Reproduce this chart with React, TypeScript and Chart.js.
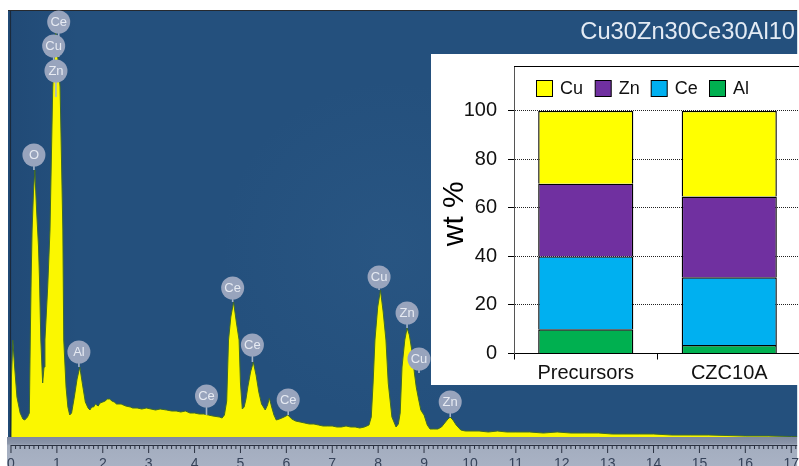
import React, { useEffect, useRef } from "react";
import { Chart, registerables } from "chart.js";

Chart.register(...registerables);

const FONT = "'Liberation Sans', Arial, sans-serif";

// EDS spectrum
const spectrumKeV = [
  0.0, 0.01, 0.04, 0.08, 0.13, 0.2, 0.26, 0.3, 0.36, 0.4, 0.42, 0.44, 0.46, 0.49, 0.52, 0.56, 0.6, 0.62, 0.65, 0.69,
  0.72, 0.74, 0.8, 0.85, 0.91, 0.975, 1.07, 1.13, 1.15, 1.2, 1.24, 1.28, 1.32, 1.38, 1.44, 1.5, 1.56, 1.62, 1.68,
  1.72, 1.76, 1.8, 1.84, 1.9, 1.94, 2.0, 2.05, 2.1, 2.15, 2.2, 2.25, 2.3, 2.4, 2.5, 2.6, 2.65, 2.75, 2.85, 2.95,
  3.05, 3.15, 3.25, 3.39, 3.5, 3.6, 3.7, 3.8, 3.9, 4.0, 4.1, 4.2, 4.3, 4.4, 4.54, 4.6, 4.65, 4.7, 4.74, 4.79, 4.85,
  4.91, 4.97, 5.0, 5.04, 5.08, 5.12, 5.16, 5.22, 5.28, 5.34, 5.4, 5.46, 5.54, 5.59, 5.63, 5.68, 5.73, 5.78, 5.85,
  5.95, 6.03, 6.12, 6.2, 6.3, 6.4, 6.5, 6.6, 6.7, 6.8, 6.9, 7.0, 7.1, 7.2, 7.3, 7.4, 7.5, 7.6, 7.7, 7.8, 7.85, 7.89,
  7.93, 7.99, 8.05, 8.11, 8.17, 8.22, 8.3, 8.39, 8.44, 8.48, 8.52, 8.58, 8.63, 8.68, 8.74, 8.79, 8.83, 8.88, 8.93,
  8.97, 9.0, 9.07, 9.13, 9.2, 9.3, 9.38, 9.45, 9.52, 9.57, 9.63, 9.7, 9.8, 9.9, 10.0, 10.2, 10.4, 10.6, 10.8, 11.0,
  11.3, 11.6, 11.9, 12.2, 12.5, 12.8, 13.1, 13.4, 13.7, 14.0, 14.4, 14.8, 15.2, 15.6, 16.0, 16.5, 17.0, 17.13,
];
const spectrumCounts = [
  0, 60, 97, 70, 40, 24, 18, 17, 20, 24, 97, 160, 207, 245, 267, 225, 190, 160, 97, 54,
  70, 97, 150, 207, 350, 407, 350, 207, 97, 50, 30, 22, 24, 40, 58, 70, 52, 35, 29,
  27, 30, 30, 33, 31, 34, 35, 36, 38, 38, 36, 35, 33, 33, 31, 30, 29, 29, 28, 29,
  28, 27, 28, 27, 26, 26, 25, 26, 24, 24, 23, 23, 22, 21, 20, 19, 22, 36, 97, 120, 135,
  115, 97, 54, 28, 30, 38, 50, 65, 75, 62, 45, 33, 27, 32, 39, 30, 22, 17, 18,
  20, 22, 18, 16, 15, 14, 13, 13, 12, 11, 11, 11, 10, 10, 11, 10, 10, 9, 10, 12, 20, 54,
  97, 130, 147, 125, 97, 54, 20, 10, 13, 24, 70, 97, 109, 102, 85, 64, 50, 38, 27,
  24, 22, 12, 8, 8, 8, 10, 14, 18, 20, 17, 12, 7, 6, 6, 6, 5, 6, 5, 5,
  5, 4, 5, 4, 4, 4, 3, 3, 3, 3, 2, 2, 2, 1.5, 1, 1, 0.5, 0.5,
];
const spectrumRange = { min: -0.065, max: 17.13 };

// peak badges
const peakNames = ["Ce", "Cu", "Zn", "O", "Al", "Ce", "Ce", "Ce", "Ce", "Cu", "Zn", "Cu", "Zn"];
const peakKeV = [1.04, 0.93, 0.98, 0.5, 1.48, 4.26, 4.83, 5.26, 6.04, 8.02, 8.63, 8.89, 9.57];
const peakBadgeY = [415, 391, 366, 282, 85, 41, 149, 92, 37, 160, 124, 78, 35];
const peakStemTo = [380, 355, 340, 267, 70, 22, 135, 75, 22, 147, 109, 64, 20];
const spectrumTitle = "Cu30Zn30Ce30Al10";

// inset composition bars
const insetCategories = ["Precursors", "CZC10A"];
const alValues = [10, 3.5];
const ceValues = [30, 27.9];
const znValues = [30, 33.3];
const cuValues = [30, 35.3];
const insetAxisTitle = "wt %";

const spectrumPlugin = {
  id: "spectrumDecor",
  beforeDraw(chart: any) {
    const { ctx, chartArea: a, width, height } = chart;
    ctx.save();
    ctx.fillStyle = "#ffffff";
    ctx.fillRect(0, 0, width, height);
    ctx.fillStyle = "#24507d";
    ctx.fillRect(a.left, a.top, a.right - a.left, a.bottom - a.top);
    let g = ctx.createRadialGradient(390, 250, 10, 390, 250, 170);
    g.addColorStop(0, "rgba(70,120,165,0.12)");
    g.addColorStop(1, "rgba(70,120,165,0)");
    ctx.fillStyle = g;
    ctx.fillRect(a.left, a.top, a.right - a.left, a.bottom - a.top);
    g = ctx.createLinearGradient(a.left, 0, a.left + 70, 0);
    g.addColorStop(0, "rgba(20,50,90,0.2)");
    g.addColorStop(1, "rgba(20,50,90,0)");
    ctx.fillStyle = g;
    ctx.fillRect(a.left, a.top, 70, a.bottom - a.top);
    ctx.fillStyle = "#26292e";
    ctx.fillRect(a.left, a.top - 1, a.right - a.left, 1);
    // scale band under the plot
    g = ctx.createLinearGradient(0, a.bottom, 0, height);
    g.addColorStop(0, "#7f8a9f");
    g.addColorStop(0.22, "#8b95a9");
    g.addColorStop(0.3, "#a3adbf");
    g.addColorStop(1, "#a9b2c4");
    ctx.fillStyle = g;
    ctx.fillRect(a.left - 1, a.bottom, a.right - a.left + 1, height - a.bottom);
    ctx.restore();
  },
  afterDatasetsDraw(chart: any) {
    const { ctx, chartArea: a, scales } = chart;
    const x = scales.x;
    const y = scales.y;
    ctx.save();
    // zero line at the left of the spectrum
    ctx.strokeStyle = "#1a2a3c";
    ctx.lineWidth = 1.2;
    ctx.beginPath();
    ctx.moveTo(x.getPixelForValue(0) - 0.5, a.top);
    ctx.lineTo(x.getPixelForValue(0) - 0.5, a.bottom);
    ctx.stroke();
    // ruler
    ctx.strokeStyle = "#2a3140";
    ctx.lineWidth = 1;
    ctx.beginPath();
    ctx.moveTo(x.getPixelForValue(0), 445.5);
    ctx.lineTo(a.right, 445.5);
    for (let i = 0; i <= 171; i++) {
      const px = x.getPixelForValue(i / 10);
      ctx.moveTo(px, 445);
      ctx.lineTo(px, i % 10 === 0 ? 453 : 449);
    }
    ctx.stroke();
    // badges' stems and text
    const meta = chart.getDatasetMeta(0);
    ctx.strokeStyle = "#a5b5c8";
    ctx.lineWidth = 1.6;
    peakNames.forEach((_, i) => {
      const px = x.getPixelForValue(peakKeV[i]);
      ctx.beginPath();
      ctx.moveTo(px, y.getPixelForValue(peakBadgeY[i]));
      ctx.lineTo(px, y.getPixelForValue(peakStemTo[i]));
      ctx.stroke();
    });
    meta.data.forEach((pt: any, i: number) => {
      ctx.beginPath();
      ctx.fillStyle = "#98a4bd";
      ctx.arc(pt.x, pt.y, 11.5, 0, Math.PI * 2);
      ctx.fill();
      ctx.fillStyle = "#e6eaf2";
      ctx.font = `13px ${FONT}`;
      ctx.textAlign = "center";
      ctx.textBaseline = "middle";
      ctx.fillText(peakNames[i], pt.x, pt.y + 0.5);
    });
    ctx.fillStyle = "#e4ebf4";
    ctx.font = `23.7px ${FONT}`;
    ctx.textAlign = "right";
    ctx.textBaseline = "middle";
    ctx.fillText(spectrumTitle, 795, 32);
    ctx.restore();
  },
};

const insetPlugin = {
  id: "insetDecor",
  afterLayout(chart: any) {
    // the axis title sits a little below the middle of the plot
    chart.scales.y.top += 8;
  },
  afterDatasetsDraw(chart: any) {
    const { ctx, chartArea: a, data } = chart;
    ctx.save();
    ctx.lineWidth = 1;
    ctx.strokeStyle = "#555";
    ctx.beginPath();
    ctx.moveTo(a.left + 0.5, a.top);
    ctx.lineTo(a.left + 0.5, a.top + 10);
    ctx.stroke();
    ctx.strokeStyle = "#000";
    ctx.beginPath();
    ctx.moveTo(a.left, a.top + 0.5);
    ctx.lineTo(a.right, a.top + 0.5);
    ctx.stroke();
    // legend, Cu first
    const items = [...data.datasets].reverse();
    const swatchLeft = [105, 163.7, 219.7, 278];
    ctx.font = `18px ${FONT}`;
    ctx.textBaseline = "middle";
    ctx.textAlign = "left";
    items.forEach((d: any, i: number) => {
      ctx.fillStyle = d.backgroundColor;
      ctx.fillRect(swatchLeft[i] + 0.5, 26.5, 16, 16);
      ctx.strokeStyle = "#000";
      ctx.strokeRect(swatchLeft[i] + 0.5, 26.5, 16, 16);
      ctx.fillStyle = "#111";
      ctx.fillText(d.label, swatchLeft[i] + 24, 35);
    });
    ctx.restore();
  },
};

export default function App() {
  const mainRef = useRef<HTMLCanvasElement>(null);
  const insetRef = useRef<HTMLCanvasElement>(null);

  useEffect(() => {
    document.body.style.margin = "0";
    const main = new Chart(mainRef.current as HTMLCanvasElement, {
      type: "line",
      data: {
        datasets: [
          {
            type: "scatter",
            label: "Peaks",
            data: peakKeV.map((x, i) => ({ x, y: peakBadgeY[i] })),
            pointRadius: 0,
            clip: false,
          } as any,
          {
            label: "Spectrum",
            data: spectrumKeV.map((x, i) => ({ x, y: spectrumCounts[i] })),
            borderColor: "#3f6a2c",
            borderWidth: 1,
            backgroundColor: "#fbf700",
            fill: "origin",
            pointRadius: 0,
            tension: 0,
          },
        ],
      },
      options: {
        responsive: false,
        animation: false,
        devicePixelRatio: 1,
        layout: { padding: { left: 8, top: 11, right: 0, bottom: 0 } },
        plugins: { legend: { display: false }, tooltip: { enabled: false } },
        scales: {
          x: {
            type: "linear",
            min: spectrumRange.min,
            max: spectrumRange.max,
            grid: { display: false, drawTicks: true, tickLength: 19 },
            border: { display: false },
            afterFit: (s: any) => {
              s.height = 29;
            },
            ticks: {
              stepSize: 1,
              includeBounds: false,
              autoSkip: false,
              maxRotation: 0,
              padding: 0,
              color: "#36435a",
              font: { family: FONT, size: 14 },
            },
          },
          y: { display: false, min: 0, max: 426 },
        },
      },
      plugins: [spectrumPlugin],
    } as any);

    const inset = new Chart(insetRef.current as HTMLCanvasElement, {
      type: "bar",
      data: {
        labels: insetCategories,
        datasets: [
          { label: "Al", data: alValues, backgroundColor: "#00b050" },
          { label: "Ce", data: ceValues, backgroundColor: "#00b0f0" },
          { label: "Zn", data: znValues, backgroundColor: "#7030a0" },
          { label: "Cu", data: cuValues, backgroundColor: "#ffff00" },
        ].map((d) => ({
          ...d,
          borderColor: "#000",
          borderWidth: 1.4,
          categoryPercentage: 1,
          barPercentage: 0.663,
        })),
      },
      options: {
        responsive: false,
        animation: false,
        devicePixelRatio: 1,
        layout: { padding: 0 },
        plugins: { legend: { display: false }, tooltip: { enabled: false } },
        scales: {
          x: {
            stacked: true,
            afterFit: (s: any) => {
              s.height = 31.5;
            },
            grid: { drawOnChartArea: false, tickLength: 6, tickColor: "#000", offset: true },
            border: { color: "#000" },
            ticks: { color: "#111", padding: 2, maxRotation: 0, font: { family: FONT, size: 20 } },
          },
          y: {
            stacked: true,
            min: 0,
            max: 118.5,
            afterFit: (s: any) => {
              s.width = 83;
              s.paddingTop = 12;
              s.paddingBottom = 0;
            },
            title: {
              display: true,
              text: insetAxisTitle,
              color: "#000",
              padding: { top: 6, bottom: 0 },
              font: { family: FONT, size: 30 },
            },
            grid: { color: "#222", tickLength: 6, tickColor: "#000" },
            border: { color: "#555", dash: [1, 1] },
            ticks: {
              stepSize: 20,
              includeBounds: false,
              color: "#111",
              padding: 11,
              font: { family: FONT, size: 20 },
            },
          },
        },
      },
      plugins: [insetPlugin],
    } as any);

    return () => {
      main.destroy();
      inset.destroy();
    };
  }, []);

  return (
    <div style={{ position: "fixed", left: 0, top: 0, width: 799, height: 466, overflow: "hidden", background: "#fff" }}>
      <canvas
        ref={mainRef}
        width={799}
        height={466}
        style={{ position: "absolute", left: 0, top: 0, filter: "blur(0.5px)" }}
      />
      <canvas
        ref={insetRef}
        width={370}
        height={331}
        style={{ position: "absolute", left: 431, top: 54, background: "#fff" }}
      />
    </div>
  );
}
